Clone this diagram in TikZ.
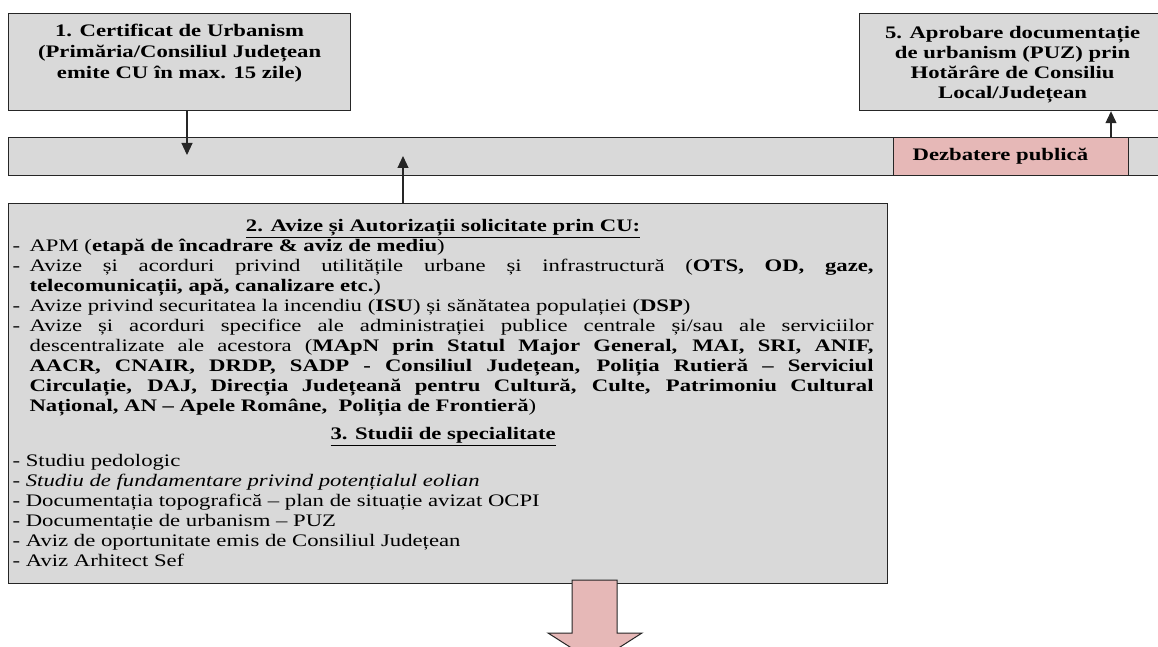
\documentclass[tikz,border=0pt]{standalone}
\usepackage{fontspec}
\setmainfont{Liberation Serif}[FakeStretch=1.29]
\usetikzlibrary{arrows.meta}
\definecolor{boxgray}{HTML}{D9D9D9}
\definecolor{boxpink}{HTML}{E6B8B7}
\definecolor{edge}{HTML}{262626}
\newcommand\itm{\par\hangindent=17pt\hangafter=1\noindent\makebox[17pt][l]{-}}
\begin{document}
\begin{tikzpicture}[x=1pt,y=-1pt,
  box/.style={draw=edge, line width=1.2pt, fill=boxgray, inner sep=0pt, anchor=north west},
  arr/.style={-{Triangle[width=11pt,length=12pt]}, line width=1.1pt, draw=edge}]
\useasboundingbox (0,0) rectangle (1158,647);
\clip (0,0) rectangle (1158,647);

% box 1
\node[box] (b1) at (8,13) {\parbox[t][97pt][t]{342pt}{\fontsize{17.6pt}{21pt}\selectfont\centering\bfseries
  \rule{0pt}{23pt}1. Certificat de Urbanism\\(Primăria/Consiliul Județean\\emite CU în max. 15 zile)}};

% box 5
\node[box] (b5) at (859,13) {\parbox[t][97pt][t]{306pt}{\fontsize{17.6pt}{20pt}\selectfont\centering\bfseries
  \rule{0pt}{24.5pt}5. Aprobare documentație\\de urbanism (PUZ) prin\\Hotărâre de Consiliu\\Local/Județean}};

% bar
\node[box, minimum width=1165pt, minimum height=38pt] (bar) at (8,137) {};
\node[box, fill=boxpink, minimum height=38pt] (dz) at (893,137)
  {\parbox[c][38pt][c]{235pt}{\fontsize{17.6pt}{20pt}\selectfont\hspace*{19pt}\textbf{Dezbatere publică}}};

% box 2
\node[box] (b2) at (8,203) {\hspace*{4pt}\parbox[t][380pt][t]{861pt}{\fontsize{17.6pt}{20pt}\selectfont
  \tolerance=10000\emergencystretch=20pt
  {\centering\rule{0pt}{28pt}\textbf{\underline{2. Avize și Autorizații solicitate prin CU:}}\par}
  \itm APM (\textbf{etapă de încadrare \& aviz de mediu})
  \itm Avize și acorduri privind utilitățile urbane și infrastructură (\textbf{OTS, OD, gaze,}\linebreak
  \textbf{telecomunicații, apă, canalizare etc.})
  \itm Avize privind securitatea la incendiu (\textbf{ISU}) și sănătatea populației (\textbf{DSP})
  \itm Avize și acorduri specifice ale administrației publice centrale și/sau ale serviciilor\linebreak
  descentralizate ale acestora (\textbf{MApN prin Statul Major General, MAI, SRI, ANIF,}\linebreak
  \textbf{AACR, CNAIR, DRDP, SADP - Consiliul Județean, Poliția Rutieră – Serviciul}\linebreak
  \textbf{Circulație, DAJ, Direcția Județeană pentru Cultură, Culte, Patrimoniu Cultural}\linebreak
  \textbf{Național, AN – Apele Române,\ \ Poliția de Frontieră})\par
  \vspace{8pt}
  {\centering\textbf{\underline{3. Studii de specialitate}}\par}
  \vspace{7pt}
  \noindent - Studiu pedologic\\
  - \textit{Studiu de fundamentare privind potențialul eolian}\\
  - Documentația topografică – plan de situație avizat OCPI\\
  - Documentație de urbanism – PUZ\\
  - Aviz de oportunitate emis de Consiliul Județean\\
  - Aviz Arhitect Sef\par
  }\hspace*{14pt}};

% connectors
\coordinate (t1) at (187,155);
\draw[arr] (b1.south -| t1) -- (t1);
\coordinate (t2) at (403,156);
\draw[arr] (b2.north -| t2) -- (t2);
\coordinate (x3) at (1111,0);
\draw[arr] (bar.north -| x3) -- (b5.south -| x3);

% big down arrow
\draw[draw=edge, fill=boxpink, line width=1pt]
  (572,580) -- (572,633) -- (548,633) -- (595,663) -- (642,633) -- (617,633) -- (617,580) -- cycle;
\end{tikzpicture}
\end{document}
